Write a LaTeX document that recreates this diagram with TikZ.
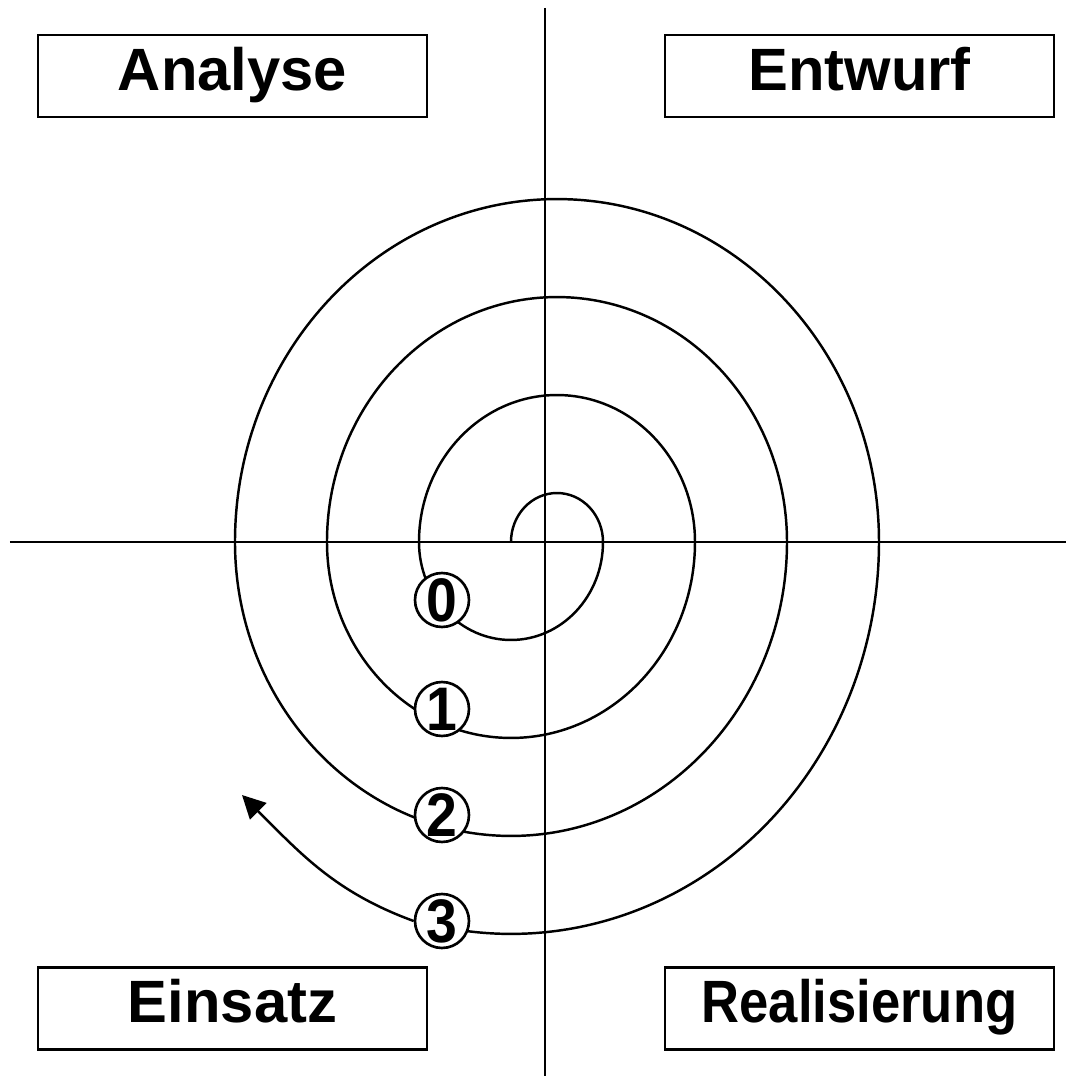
\documentclass[tikz,border=0pt]{standalone}
\usepackage{fontspec}
\setmainfont{Liberation Sans}
\usetikzlibrary{arrows.meta}
\tikzset{
  phase/.style={draw, line width=1.5pt, minimum width=7.78cm, minimum height=1.64cm,
    inner sep=0pt, text height=23pt, text depth=6.6pt,
    font=\fontsize{34}{36}\selectfont\bfseries},
  round/.style={draw, circle, fill=white, line width=1.5pt, minimum size=1.08cm,
    inner sep=0pt, font=\fontsize{35}{35}\selectfont\bfseries}
}
\begin{document}
\begin{tikzpicture}[x=0.02cm, y=0.02cm, line width=1.4pt]
  \useasboundingbox (-545,-534) rectangle (521,542);
  % axes
  \draw[line width=1.6pt] (-535,0) -- (521,0);
  \draw[line width=1.6pt] (0,534) -- (0,-534);
  % spiral: upper halves round (12,0), lower halves round (-34,0)
  \foreach \r in {46,138,230,322}{
    \draw (12-\r,0) arc[start angle=180, end angle=0, x radius=\r, y radius=1.065*\r];
  }
  \foreach \r in {92,184,276}{
    \draw (-34+\r,0) arc[start angle=0, end angle=-180, x radius=\r, y radius=1.065*\r];
  }
  \draw (334,0) arc[start angle=0, end angle=-100.8, x radius=368, y radius=1.065*368];
  % round numbers on the spiral
  \node[round] (n0) at (-103,-58) {\scalebox{0.9}[1]{0}};
  \node[round] (n1) at (-103,-167) {\scalebox{0.9}[1]{1}};
  \node[round] (n2) at (-103,-273) {\scalebox{0.9}[1]{2}};
  \node[round] (n3) at (-103,-379) {\scalebox{0.9}[1]{3}};
  % arrow out of the spiral
  \coordinate (tip) at (-303,-253);
  \draw[-{Triangle[length=0.46cm, width=0.46cm]}] (n3.west) to[out=160, in=-45] (tip);
  % phase boxes
  \node[phase] (analyse) at (-312.5,466) {Analyse};
  \node[phase] (entwurf) at (314.5,466) {Entwurf};
  \node[phase] (einsatz) at (-312.5,-466.5) {Einsatz};
  \node[phase] (real) at (314.5,-466.5) {\scalebox{0.88}[1]{Realisierung}};
\end{tikzpicture}
\end{document}
